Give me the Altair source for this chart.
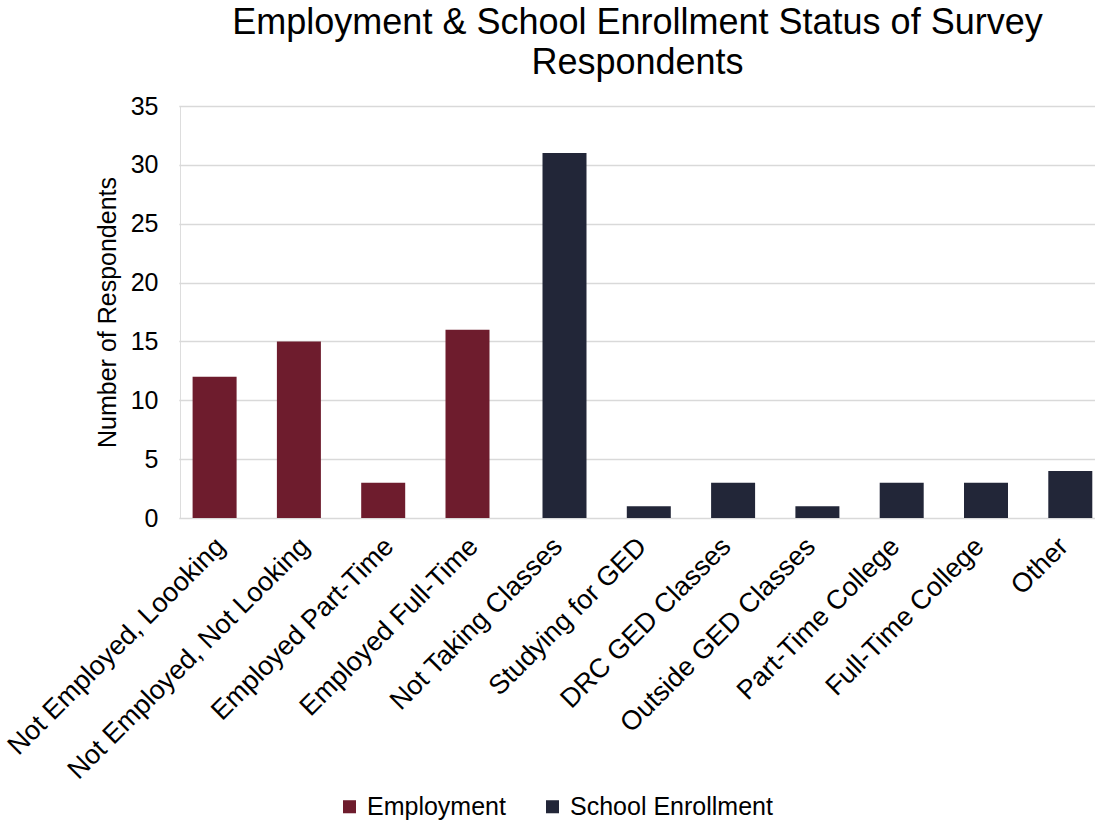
import altair as alt
import pandas as pd

categories = [
    "Not Employed, Loooking", "Not Employed, Not Looking", "Employed Part-Time",
    "Employed Full-Time", "Not Taking Classes", "Studying for GED",
    "DRC GED Classes", "Outside GED Classes", "Part-Time College",
    "Full-Time College", "Other",
]
values = [12, 15, 3, 16, 31, 1, 3, 1, 3, 3, 4]
series = ["Employment"] * 4 + ["School Enrollment"] * 7
series_names = ["Employment", "School Enrollment"]
series_colors = ["#6E1C2D", "#222638"]

df = pd.DataFrame({"Category": categories, "Value": values, "Series": series})

FONT = "Liberation Sans"
STEP = 84.3

x_enc = alt.X(
    "Category:N",
    sort=categories,
    scale=alt.Scale(range=[-1.2, -1.2 + 11 * STEP], paddingInner=0, paddingOuter=0),
    axis=alt.Axis(
        title=None, labelAngle=-45, labelAlign="right", labelBaseline="middle",
        labelFontSize=27, labelFont=FONT, labelColor="#000000", labelPadding=24,
        ticks=False, domain=False, grid=False, labelLimit=600,
    ),
)
y_enc = alt.Y(
    "Value:Q",
    scale=alt.Scale(domain=[0, 35], nice=False),
    axis=alt.Axis(
        title="Number of Respondents", titleFontSize=25, titleFont=FONT,
        titleFontWeight="normal", titleColor="#000000", titlePadding=10,
        labelFontSize=25, labelFont=FONT, labelColor="#000000", labelPadding=22,
        values=[0, 5, 10, 15, 20, 25, 30, 35], ticks=False, domain=False,
        grid=True, gridColor="#D9D9D9", gridWidth=1.5,
    ),
)
color_enc = alt.Color(
    "Series:N",
    scale=alt.Scale(domain=series_names, range=series_colors),
    legend=alt.Legend(
        title=None, orient="none", direction="horizontal", legendX=157, legendY=688,
        symbolType="square", symbolSize=170, symbolStrokeWidth=0, labelFontSize=25,
        labelFont=FONT, labelColor="#000000", columnPadding=34, labelOffset=5,
        labelLimit=600,
    ),
)

base = alt.Chart(df)
emp = base.transform_filter(alt.datum.Series == "Employment").mark_bar(width=44).encode(
    x=x_enc, y=y_enc, color=color_enc, xOffset=alt.XOffsetValue(STEP / 2 - 6.35)
)
sch = base.transform_filter(alt.datum.Series == "School Enrollment").mark_bar(width=44).encode(
    x=x_enc, y=y_enc, color=color_enc, xOffset=alt.XOffsetValue(STEP / 2 + 6.35)
)

chart = alt.layer(emp, sch).properties(
    width=915,
    height=412,
    autosize=alt.AutoSizeParams(type="none"),
    padding={"left": 180, "top": 106, "right": 0, "bottom": 307},
    title=alt.TitleParams(
        ["Employment & School Enrollment Status of Survey", "Respondents"],
        fontSize=36, font=FONT, fontWeight="normal", color="#000000",
        anchor="middle", offset=12, lineHeight=40,
    ),
).configure_view(stroke=None).configure(background="white")

chart.save("out.html", embed_options={"renderer": "svg", "actions": False})
